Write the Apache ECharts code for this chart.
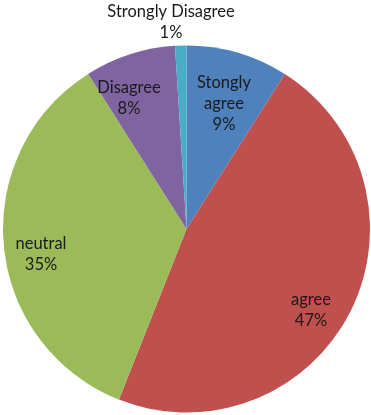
<!DOCTYPE html>
<html>
<head>
<meta charset="utf-8">
<script src="https://cdn.jsdelivr.net/npm/echarts@6/dist/echarts.min.js"></script>
<style>
  html, body { margin: 0; padding: 0; background: #fff; }
  #chart { width: 371px; height: 415px; }
</style>
</head>
<body>
<div id="chart"></div>
<script>
// Survey responses, clockwise from 12 o'clock
const categories = ['Stongly\nagree', 'agree', 'neutral', 'Disagree', 'Strongly Disagree'];
const percents = [9, 47, 35, 8, 1];
const colors = ['#4F81BD', '#C0504D', '#9BBB59', '#8064A2', '#4BACC6'];

// Label anchor points (centre of each text block) in pixels
const labelSpots = [[224, 104], [311, 310], [41, 254], [129, 98], [171, 22]];

const chart = echarts.init(document.getElementById('chart'));
chart.setOption({
  animation: false,
  series: [{
    type: 'pie',
    center: [186.5, 229],
    radius: [0, 183.5],
    startAngle: 90,
    clockwise: true,
    silent: true,
    data: categories.map((name, i) => ({
      name: name,
      value: percents[i],
      itemStyle: { color: colors[i] }
    })),
    itemStyle: { borderWidth: 0 },
    label: {
      show: true,
      position: 'inside',
      formatter: p => p.name + '\n' + p.value + '%',
      color: '#1a1a1a',
      fontFamily: 'Lato',
      fontSize: 16.5,
      lineHeight: 21,
      align: 'center',
      verticalAlign: 'middle'
    },
    labelLine: { show: false },
    labelLayout: params => ({
      x: labelSpots[params.dataIndex][0],
      y: labelSpots[params.dataIndex][1],
      align: 'center',
      verticalAlign: 'middle'
    })
  }]
});
</script>
</body>
</html>
